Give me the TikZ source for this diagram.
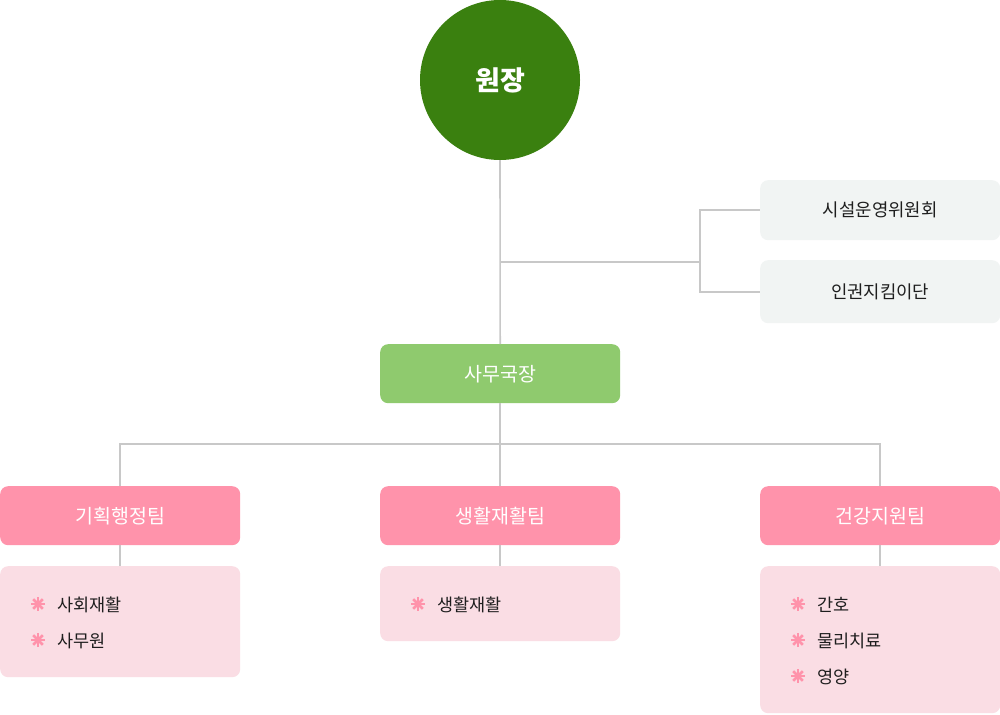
\documentclass[tikz,border=0pt]{standalone}
\usepackage{fontspec}
\usetikzlibrary{calc}
\setmainfont{Noto Sans CJK KR}
\definecolor{cgreen}{HTML}{3A800F}
\definecolor{lgreen}{HTML}{8FCA6E}
\definecolor{pinkhd}{HTML}{FF93AB}
\definecolor{pinkbg}{HTML}{FADDE4}
\definecolor{greybg}{HTML}{F1F4F3}
\definecolor{lineg}{HTML}{C8C8C8}
\definecolor{txt}{HTML}{1E1E1E}
\begin{document}
\begin{tikzpicture}[x=1pt,y=-1pt,
  conn/.style={draw=lineg,line width=1.6pt},
  box/.style={rounded corners=8pt,minimum width=240pt,inner sep=0pt,anchor=north west},
  headbox/.style={box,fill=pinkhd,minimum height=59pt,text=white,font=\fontsize{19.5}{22}\selectfont},
  listbox/.style={box,fill=pinkbg},
  combox/.style={box,fill=greybg,text=txt,font=\fontsize{17.8}{20}\selectfont},
  bulspoke/.style={draw=pinkhd,line width=2.6pt},
  item/.style={text=txt,font=\fontsize{17.5}{20}\selectfont,anchor=west,inner sep=0pt}
]
\useasboundingbox (0,0) rectangle (1000,714);
\fill[white] (0,0) rectangle (1000,714);
% nodes
\node[circle,fill=cgreen,minimum size=160pt,inner sep=0pt,text=white,font=\bfseries\fontsize{27}{30}\selectfont] (dir) at (500,80) {원장};
\node[combox,minimum height=60pt] (c1) at (760,180) {시설운영위원회};
\node[combox,minimum height=63pt] (c2) at (760,260) {인권지킴이단};
\node[box,fill=lgreen,minimum height=59pt,text=white,font=\fontsize{19.5}{22}\selectfont] (sec) at (380,344) {사무국장};
\node[headbox] (t1) at (0,486) {기획행정팀};
\node[headbox] (t2) at (380,486) {생활재활팀};
\node[headbox] (t3) at (760,486) {건강지원팀};
\node[listbox,minimum height=111pt] (l1) at (0,566) {};
\node[listbox,minimum height=75pt] (l2) at (380,566) {};
\node[listbox,minimum height=147pt] (l3) at (760,566) {};
% connectors
\coordinate (j1) at (500,262);
\coordinate (j2) at (700,262);
\coordinate (j3) at (500,444);
\draw[conn] (dir.south) -- (sec.north);
\draw[conn] (j1) -- (j2) |- (c1.west);
\draw[conn] (j2) |- (c2.west);
\draw[conn] (sec.south) -- (t2.north);
\draw[conn] (t1.north) |- (j3) -| (t3.north);
\draw[conn] (t1.south) -- (l1.north);
\draw[conn] (t2.south) -- (l2.north);
\draw[conn] (t3.south) -- (l3.north);
% list items
\foreach \n/\x/\y/\t in {a/0/604/사회재활, b/0/640/사무원, c/380/604/생활재활, d/760/604/간호, e/760/640/물리치료, f/760/676/영양}{
  \coordinate (b\n) at (\x+38,\y);
  \foreach \a in {0,45,90,135}{
    \draw[bulspoke] ($(b\n)+(\a:6.8)$) -- ($(b\n)+(\a+180:6.8)$);
  }
  \node[item] (i\n) at (\x+57,\y+0.5) {\t};
}
\end{tikzpicture}
\end{document}
